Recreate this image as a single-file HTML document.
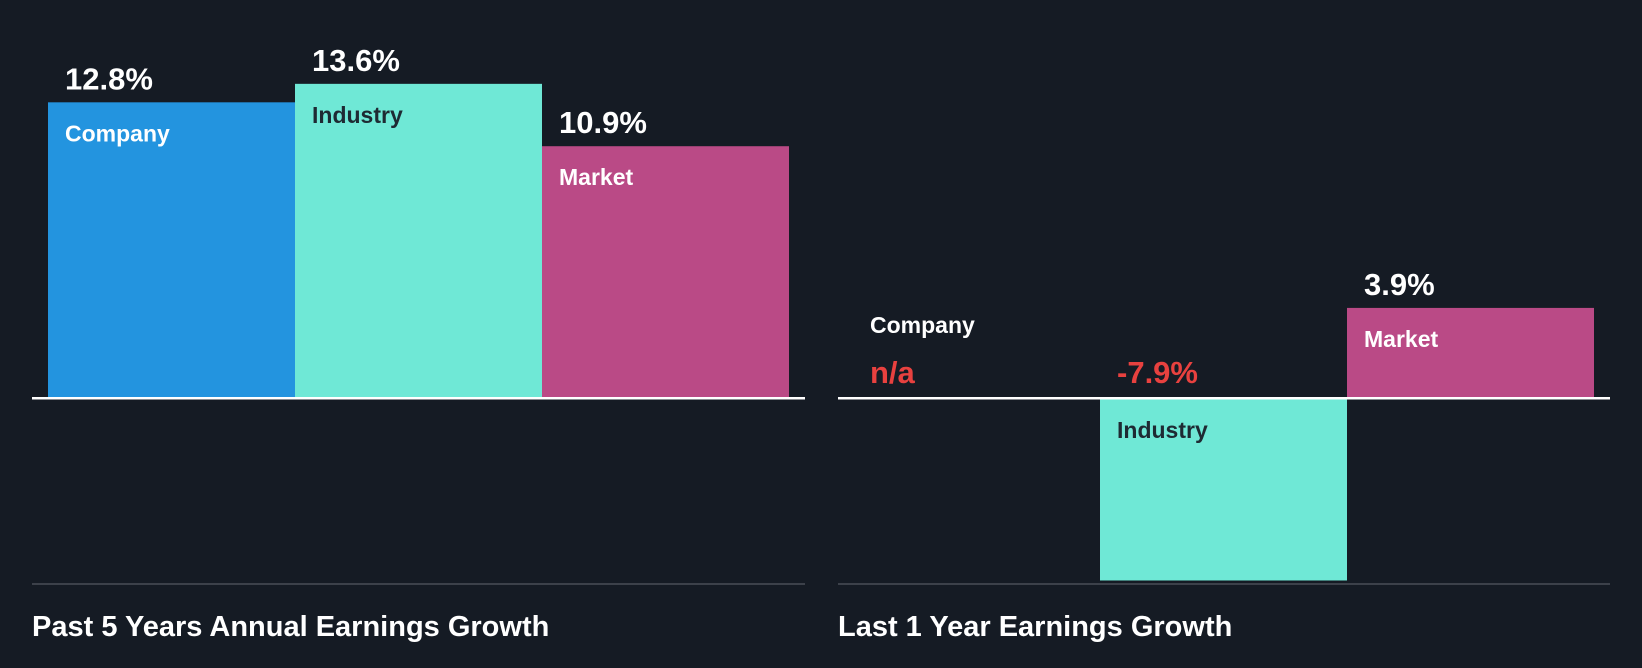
<!DOCTYPE html>
<html><head><meta charset="utf-8"><style>
html,body{margin:0;padding:0;background:#151b24;}
svg{display:block;font-family:"Liberation Sans",Arial,sans-serif;font-weight:bold;}
</style></head><body>
<svg id="c" width="1642" height="668" viewBox="0 0 1642 668">
<rect width="1642" height="668" fill="#151b24"/>
</svg>
<script>
const categories = ["Company","Industry","Market"];
const past5Values = [12.8, 13.6, 10.9];
const last1Values = [null, -7.9, 3.9];
const panelTitles = ["Past 5 Years Annual Earnings Growth","Last 1 Year Earnings Growth"];
const colors = ["#2394df","#6fe8d6","#ba4a86"];
const labelColors = ["#ffffff","#1e2a33","#ffffff"];
const svg = document.getElementById('c');
const NS = 'http://www.w3.org/2000/svg';
const zeroY = 398, pxPer = 23.1;
function y(v){ return zeroY - v*pxPer; }
function mk(tag, attrs, parent){ const e=document.createElementNS(NS,tag); for(const k in attrs) e.setAttribute(k,attrs[k]); (parent||svg).appendChild(e); return e; }
const panels = [{x0:32,x1:805,barX:48,vals:past5Values,key:'past-5-years'},{x0:838,x1:1610,barX:853,vals:last1Values,key:'last-1-year'}];
const bw = 247;
panels.forEach((p,pi)=>{
  const g = mk('g',{});
  
  
  p.vals.forEach((v,i)=>{
    const bx = p.barX + i*bw;
    if (v === null) {
      const t = mk('text',{x:bx+17,y:333,fill:'#ffffff','font-size':23},g);
      t.textContent = categories[i];
      
      
      const n = mk('text',{x:bx+17,y:383,fill:'#e8413f','font-size':31},g);
      n.textContent = 'n/a';
      
      
      return;
    }
    const top = Math.min(y(v), zeroY), h = Math.abs(y(v)-zeroY);
    const r = mk('rect',{x:bx,y:top,width:bw,height:h,fill:colors[i]},g);
    
    
    const neg = v < 0;
    const vt = mk('text',{x:bx+17,y:neg?383:top-13,fill:neg?'#e8413f':'#ffffff','font-size':31},g);
    vt.textContent = v.toFixed(1)+'%';
    
    
    const lt = mk('text',{x:bx+17,y:neg?zeroY+40:top+39,fill:labelColors[i],'font-size':23},g);
    lt.textContent = categories[i];
    
    
  });
  const zl = mk('rect',{x:p.x0,y:zeroY-1,width:p.x1-p.x0,height:2.5,fill:'#ffffff'},g);
  
  
  const bl = mk('rect',{x:p.x0,y:583,width:p.x1-p.x0,height:2,fill:'#3c414a'},g);
  
  
  const tt = mk('text',{x:p.x0,y:636,fill:'#ffffff','font-size':29},g);
  tt.textContent = panelTitles[pi];
  
  
});
</script>
</body></html>
